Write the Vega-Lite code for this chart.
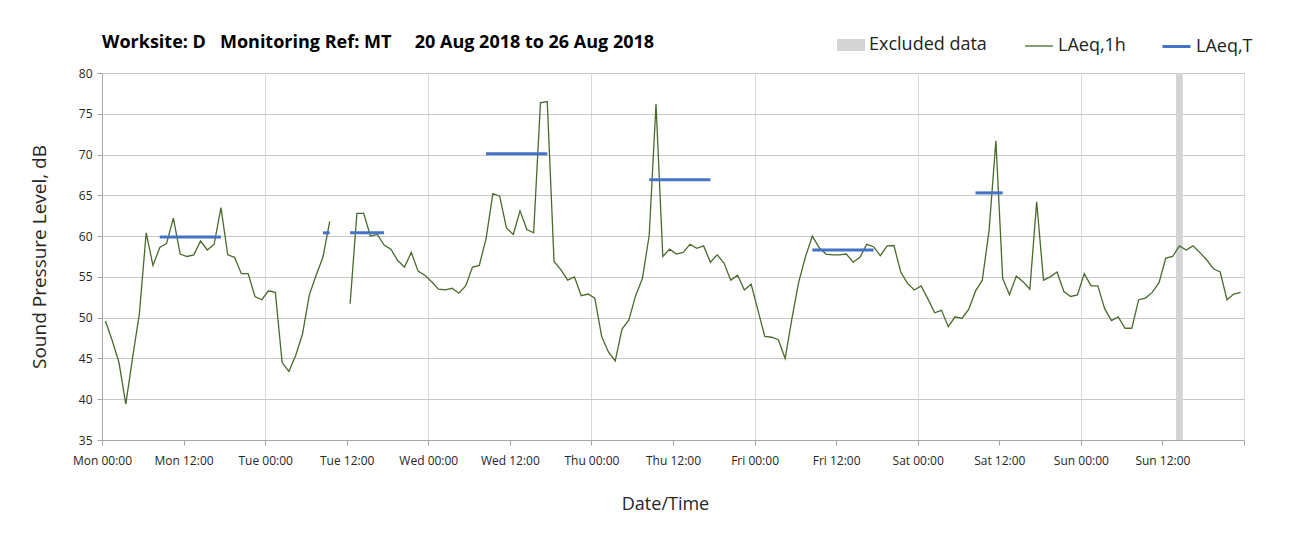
{
  "$schema": "https://vega.github.io/schema/vega-lite/v6.json",
  "width": 1142,
  "height": 367,
  "autosize": {"type": "none"},
  "padding": {"left": 102, "top": 73, "right": 65, "bottom": 100},
  "background": "white",
  "title": {
    "text": "Worksite: D\u00a0\u00a0\u00a0Monitoring Ref: MT\u00a0\u00a0\u00a0\u00a0\u00a020 Aug 2018 to 26 Aug 2018",
    "anchor": "start",
    "frame": "group",
    "offset": -21,
    "font": "Open Sans",
    "fontSize": 18,
    "fontWeight": "bold",
    "color": "#000000"
  },
  "datasets": {
    "excluded": [
      {"t": "2018-08-26T14:00", "t2": "2018-08-26T15:00"}
    ],
    "hourly": [
      {"t": "2018-08-20T00:30", "v": 49.6, "s": 1},
      {"t": "2018-08-20T01:30", "v": 47.2, "s": 1},
      {"t": "2018-08-20T02:30", "v": 44.5, "s": 1},
      {"t": "2018-08-20T03:30", "v": 39.4, "s": 1},
      {"t": "2018-08-20T04:30", "v": 45.1, "s": 1},
      {"t": "2018-08-20T05:30", "v": 50.5, "s": 1},
      {"t": "2018-08-20T06:30", "v": 60.4, "s": 1},
      {"t": "2018-08-20T07:30", "v": 56.4, "s": 1},
      {"t": "2018-08-20T08:30", "v": 58.6, "s": 1},
      {"t": "2018-08-20T09:30", "v": 59.1, "s": 1},
      {"t": "2018-08-20T10:30", "v": 62.2, "s": 1},
      {"t": "2018-08-20T11:30", "v": 57.8, "s": 1},
      {"t": "2018-08-20T12:30", "v": 57.5, "s": 1},
      {"t": "2018-08-20T13:30", "v": 57.7, "s": 1},
      {"t": "2018-08-20T14:30", "v": 59.4, "s": 1},
      {"t": "2018-08-20T15:30", "v": 58.3, "s": 1},
      {"t": "2018-08-20T16:30", "v": 59.0, "s": 1},
      {"t": "2018-08-20T17:30", "v": 63.5, "s": 1},
      {"t": "2018-08-20T18:30", "v": 57.7, "s": 1},
      {"t": "2018-08-20T19:30", "v": 57.4, "s": 1},
      {"t": "2018-08-20T20:30", "v": 55.4, "s": 1},
      {"t": "2018-08-20T21:30", "v": 55.4, "s": 1},
      {"t": "2018-08-20T22:30", "v": 52.6, "s": 1},
      {"t": "2018-08-20T23:30", "v": 52.2, "s": 1},
      {"t": "2018-08-21T00:30", "v": 53.3, "s": 1},
      {"t": "2018-08-21T01:30", "v": 53.1, "s": 1},
      {"t": "2018-08-21T02:30", "v": 44.5, "s": 1},
      {"t": "2018-08-21T03:30", "v": 43.4, "s": 1},
      {"t": "2018-08-21T04:30", "v": 45.4, "s": 1},
      {"t": "2018-08-21T05:30", "v": 48.0, "s": 1},
      {"t": "2018-08-21T06:30", "v": 52.8, "s": 1},
      {"t": "2018-08-21T07:30", "v": 55.2, "s": 1},
      {"t": "2018-08-21T08:30", "v": 57.4, "s": 1},
      {"t": "2018-08-21T09:30", "v": 61.8, "s": 1},
      {"t": "2018-08-21T12:30", "v": 51.7, "s": 2},
      {"t": "2018-08-21T13:30", "v": 62.8, "s": 2},
      {"t": "2018-08-21T14:30", "v": 62.8, "s": 2},
      {"t": "2018-08-21T15:30", "v": 60.0, "s": 2},
      {"t": "2018-08-21T16:30", "v": 60.2, "s": 2},
      {"t": "2018-08-21T17:30", "v": 58.9, "s": 2},
      {"t": "2018-08-21T18:30", "v": 58.4, "s": 2},
      {"t": "2018-08-21T19:30", "v": 57.0, "s": 2},
      {"t": "2018-08-21T20:30", "v": 56.2, "s": 2},
      {"t": "2018-08-21T21:30", "v": 58.0, "s": 2},
      {"t": "2018-08-21T22:30", "v": 55.7, "s": 2},
      {"t": "2018-08-21T23:30", "v": 55.2, "s": 2},
      {"t": "2018-08-22T00:30", "v": 54.4, "s": 2},
      {"t": "2018-08-22T01:30", "v": 53.5, "s": 2},
      {"t": "2018-08-22T02:30", "v": 53.4, "s": 2},
      {"t": "2018-08-22T03:30", "v": 53.6, "s": 2},
      {"t": "2018-08-22T04:30", "v": 53.0, "s": 2},
      {"t": "2018-08-22T05:30", "v": 53.9, "s": 2},
      {"t": "2018-08-22T06:30", "v": 56.2, "s": 2},
      {"t": "2018-08-22T07:30", "v": 56.4, "s": 2},
      {"t": "2018-08-22T08:30", "v": 59.7, "s": 2},
      {"t": "2018-08-22T09:30", "v": 65.2, "s": 2},
      {"t": "2018-08-22T10:30", "v": 64.9, "s": 2},
      {"t": "2018-08-22T11:30", "v": 61.0, "s": 2},
      {"t": "2018-08-22T12:30", "v": 60.2, "s": 2},
      {"t": "2018-08-22T13:30", "v": 63.1, "s": 2},
      {"t": "2018-08-22T14:30", "v": 60.8, "s": 2},
      {"t": "2018-08-22T15:30", "v": 60.4, "s": 2},
      {"t": "2018-08-22T16:30", "v": 76.35, "s": 2},
      {"t": "2018-08-22T17:30", "v": 76.5, "s": 2},
      {"t": "2018-08-22T18:30", "v": 56.9, "s": 2},
      {"t": "2018-08-22T19:30", "v": 55.9, "s": 2},
      {"t": "2018-08-22T20:30", "v": 54.6, "s": 2},
      {"t": "2018-08-22T21:30", "v": 55.0, "s": 2},
      {"t": "2018-08-22T22:30", "v": 52.7, "s": 2},
      {"t": "2018-08-22T23:30", "v": 52.9, "s": 2},
      {"t": "2018-08-23T00:30", "v": 52.4, "s": 2},
      {"t": "2018-08-23T01:30", "v": 47.7, "s": 2},
      {"t": "2018-08-23T02:30", "v": 45.8, "s": 2},
      {"t": "2018-08-23T03:30", "v": 44.7, "s": 2},
      {"t": "2018-08-23T04:30", "v": 48.6, "s": 2},
      {"t": "2018-08-23T05:30", "v": 49.7, "s": 2},
      {"t": "2018-08-23T06:30", "v": 52.7, "s": 2},
      {"t": "2018-08-23T07:30", "v": 54.8, "s": 2},
      {"t": "2018-08-23T08:30", "v": 60.1, "s": 2},
      {"t": "2018-08-23T09:30", "v": 76.2, "s": 2},
      {"t": "2018-08-23T10:30", "v": 57.5, "s": 2},
      {"t": "2018-08-23T11:30", "v": 58.4, "s": 2},
      {"t": "2018-08-23T12:30", "v": 57.8, "s": 2},
      {"t": "2018-08-23T13:30", "v": 58.0, "s": 2},
      {"t": "2018-08-23T14:30", "v": 59.0, "s": 2},
      {"t": "2018-08-23T15:30", "v": 58.5, "s": 2},
      {"t": "2018-08-23T16:30", "v": 58.8, "s": 2},
      {"t": "2018-08-23T17:30", "v": 56.8, "s": 2},
      {"t": "2018-08-23T18:30", "v": 57.7, "s": 2},
      {"t": "2018-08-23T19:30", "v": 56.7, "s": 2},
      {"t": "2018-08-23T20:30", "v": 54.6, "s": 2},
      {"t": "2018-08-23T21:30", "v": 55.2, "s": 2},
      {"t": "2018-08-23T22:30", "v": 53.4, "s": 2},
      {"t": "2018-08-23T23:30", "v": 54.1, "s": 2},
      {"t": "2018-08-24T00:30", "v": 50.9, "s": 2},
      {"t": "2018-08-24T01:30", "v": 47.7, "s": 2},
      {"t": "2018-08-24T02:30", "v": 47.6, "s": 2},
      {"t": "2018-08-24T03:30", "v": 47.3, "s": 2},
      {"t": "2018-08-24T04:30", "v": 45.0, "s": 2},
      {"t": "2018-08-24T05:30", "v": 49.9, "s": 2},
      {"t": "2018-08-24T06:30", "v": 54.4, "s": 2},
      {"t": "2018-08-24T07:30", "v": 57.5, "s": 2},
      {"t": "2018-08-24T08:30", "v": 60.0, "s": 2},
      {"t": "2018-08-24T09:30", "v": 58.6, "s": 2},
      {"t": "2018-08-24T10:30", "v": 57.8, "s": 2},
      {"t": "2018-08-24T11:30", "v": 57.7, "s": 2},
      {"t": "2018-08-24T12:30", "v": 57.7, "s": 2},
      {"t": "2018-08-24T13:30", "v": 57.8, "s": 2},
      {"t": "2018-08-24T14:30", "v": 56.8, "s": 2},
      {"t": "2018-08-24T15:30", "v": 57.4, "s": 2},
      {"t": "2018-08-24T16:30", "v": 59.0, "s": 2},
      {"t": "2018-08-24T17:30", "v": 58.7, "s": 2},
      {"t": "2018-08-24T18:30", "v": 57.6, "s": 2},
      {"t": "2018-08-24T19:30", "v": 58.8, "s": 2},
      {"t": "2018-08-24T20:30", "v": 58.85, "s": 2},
      {"t": "2018-08-24T21:30", "v": 55.6, "s": 2},
      {"t": "2018-08-24T22:30", "v": 54.2, "s": 2},
      {"t": "2018-08-24T23:30", "v": 53.4, "s": 2},
      {"t": "2018-08-25T00:30", "v": 53.9, "s": 2},
      {"t": "2018-08-25T01:30", "v": 52.3, "s": 2},
      {"t": "2018-08-25T02:30", "v": 50.6, "s": 2},
      {"t": "2018-08-25T03:30", "v": 50.9, "s": 2},
      {"t": "2018-08-25T04:30", "v": 48.9, "s": 2},
      {"t": "2018-08-25T05:30", "v": 50.1, "s": 2},
      {"t": "2018-08-25T06:30", "v": 49.9, "s": 2},
      {"t": "2018-08-25T07:30", "v": 51.0, "s": 2},
      {"t": "2018-08-25T08:30", "v": 53.25, "s": 2},
      {"t": "2018-08-25T09:30", "v": 54.6, "s": 2},
      {"t": "2018-08-25T10:30", "v": 60.7, "s": 2},
      {"t": "2018-08-25T11:30", "v": 71.7, "s": 2},
      {"t": "2018-08-25T12:30", "v": 54.8, "s": 2},
      {"t": "2018-08-25T13:30", "v": 52.8, "s": 2},
      {"t": "2018-08-25T14:30", "v": 55.1, "s": 2},
      {"t": "2018-08-25T15:30", "v": 54.4, "s": 2},
      {"t": "2018-08-25T16:30", "v": 53.5, "s": 2},
      {"t": "2018-08-25T17:30", "v": 64.2, "s": 2},
      {"t": "2018-08-25T18:30", "v": 54.6, "s": 2},
      {"t": "2018-08-25T19:30", "v": 55.0, "s": 2},
      {"t": "2018-08-25T20:30", "v": 55.6, "s": 2},
      {"t": "2018-08-25T21:30", "v": 53.2, "s": 2},
      {"t": "2018-08-25T22:30", "v": 52.6, "s": 2},
      {"t": "2018-08-25T23:30", "v": 52.8, "s": 2},
      {"t": "2018-08-26T00:30", "v": 55.4, "s": 2},
      {"t": "2018-08-26T01:30", "v": 53.9, "s": 2},
      {"t": "2018-08-26T02:30", "v": 53.9, "s": 2},
      {"t": "2018-08-26T03:30", "v": 51.1, "s": 2},
      {"t": "2018-08-26T04:30", "v": 49.65, "s": 2},
      {"t": "2018-08-26T05:30", "v": 50.1, "s": 2},
      {"t": "2018-08-26T06:30", "v": 48.7, "s": 2},
      {"t": "2018-08-26T07:30", "v": 48.7, "s": 2},
      {"t": "2018-08-26T08:30", "v": 52.2, "s": 2},
      {"t": "2018-08-26T09:30", "v": 52.4, "s": 2},
      {"t": "2018-08-26T10:30", "v": 53.1, "s": 2},
      {"t": "2018-08-26T11:30", "v": 54.3, "s": 2},
      {"t": "2018-08-26T12:30", "v": 57.3, "s": 2},
      {"t": "2018-08-26T13:30", "v": 57.5, "s": 2},
      {"t": "2018-08-26T14:30", "v": 58.8, "s": 2},
      {"t": "2018-08-26T15:30", "v": 58.3, "s": 2},
      {"t": "2018-08-26T16:30", "v": 58.8, "s": 2},
      {"t": "2018-08-26T17:30", "v": 58.0, "s": 2},
      {"t": "2018-08-26T18:30", "v": 57.1, "s": 2},
      {"t": "2018-08-26T19:30", "v": 56.0, "s": 2},
      {"t": "2018-08-26T20:30", "v": 55.6, "s": 2},
      {"t": "2018-08-26T21:30", "v": 52.2, "s": 2},
      {"t": "2018-08-26T22:30", "v": 52.9, "s": 2},
      {"t": "2018-08-26T23:30", "v": 53.1, "s": 2}
    ],
    "period": [
      {"t": "2018-08-20T08:30", "v": 59.9, "s": "Mon"},
      {"t": "2018-08-20T17:30", "v": 59.9, "s": "Mon"},
      {"t": "2018-08-21T08:30", "v": 60.4, "s": "Tue a"},
      {"t": "2018-08-21T09:30", "v": 60.4, "s": "Tue a"},
      {"t": "2018-08-21T12:30", "v": 60.4, "s": "Tue b"},
      {"t": "2018-08-21T17:30", "v": 60.4, "s": "Tue b"},
      {"t": "2018-08-22T08:30", "v": 70.1, "s": "Wed"},
      {"t": "2018-08-22T17:30", "v": 70.1, "s": "Wed"},
      {"t": "2018-08-23T08:30", "v": 66.9, "s": "Thu"},
      {"t": "2018-08-23T17:30", "v": 66.9, "s": "Thu"},
      {"t": "2018-08-24T08:30", "v": 58.3, "s": "Fri"},
      {"t": "2018-08-24T17:30", "v": 58.3, "s": "Fri"},
      {"t": "2018-08-25T08:30", "v": 65.3, "s": "Sat"},
      {"t": "2018-08-25T12:30", "v": 65.3, "s": "Sat"}
    ]
  },
  "layer": [
    {
      "data": {"name": "excluded"},
      "mark": {"type": "rect"},
      "encoding": {
        "x": {
          "field": "t",
          "type": "temporal",
          "title": "Date/Time",
          "scale": {
            "domain": [
              {"year": 2018, "month": 8, "date": 20, "hours": 0},
              {"year": 2018, "month": 8, "date": 27, "hours": 0}
            ],
            "nice": false
          },
          "axis": {
            "values": [
              {"year": 2018, "month": 8, "date": 20, "hours": 0},
              {"year": 2018, "month": 8, "date": 20, "hours": 12},
              {"year": 2018, "month": 8, "date": 21, "hours": 0},
              {"year": 2018, "month": 8, "date": 21, "hours": 12},
              {"year": 2018, "month": 8, "date": 22, "hours": 0},
              {"year": 2018, "month": 8, "date": 22, "hours": 12},
              {"year": 2018, "month": 8, "date": 23, "hours": 0},
              {"year": 2018, "month": 8, "date": 23, "hours": 12},
              {"year": 2018, "month": 8, "date": 24, "hours": 0},
              {"year": 2018, "month": 8, "date": 24, "hours": 12},
              {"year": 2018, "month": 8, "date": 25, "hours": 0},
              {"year": 2018, "month": 8, "date": 25, "hours": 12},
              {"year": 2018, "month": 8, "date": 26, "hours": 0},
              {"year": 2018, "month": 8, "date": 26, "hours": 12},
              {"year": 2018, "month": 8, "date": 27, "hours": 0}
            ],
            "labelExpr": "datum.value >= datetime(2018, 7, 27) ? '' : timeFormat(datum.value, '%a %H:%M')",
            "labelFontSize": 12,
            "labelPadding": 10,
            "labelOverlap": false,
            "labelFlush": false,
            "tickSize": 5,
            "grid": true,
            "gridColor": "#d9d9d9",
            "gridOpacity": {"condition": {"test": "hours(datum.value) == 12", "value": 0}, "value": 1},
            "titleFontSize": 18,
            "titlePadding": 29,
            "titleX": 563
          }
        },
        "x2": {"field": "t2"},
        "fill": {
          "datum": "Excluded data",
          "type": "nominal",
          "scale": {"domain": ["Excluded data"], "range": ["#d4d4d4"]},
          "legend": {
            "orient": "none",
            "legendX": 735,
            "legendY": -42,
            "title": null,
            "symbolType": "M-1,-0.43H1V0.43H-1Z",
            "symbolSize": 784,
            "symbolStrokeWidth": 0,
            "labelFontSize": 18,
            "labelOffset": 4,
            "labelFont": "Open Sans",
            "labelColor": "#222222"
          }
        }
      }
    },
    {
      "data": {"name": "hourly"},
      "mark": {"type": "line", "strokeWidth": 1.3},
      "encoding": {
        "x": {"field": "t", "type": "temporal"},
        "y": {
          "field": "v",
          "type": "quantitative",
          "title": "Sound Pressure Level, dB",
          "scale": {"domain": [35, 80], "nice": false, "zero": false},
          "axis": {
            "values": [35, 40, 45, 50, 55, 60, 65, 70, 75, 80],
            "labelFontSize": 12,
            "labelPadding": 5,
            "tickSize": 5,
            "grid": true,
            "gridColor": "#c8c8c8",
            "titleFontSize": 19,
            "titlePadding": 29
          }
        },
        "detail": {"field": "s", "type": "nominal"},
        "stroke": {
          "datum": "LAeq,1h",
          "type": "nominal",
          "scale": {"domain": ["LAeq,1h"], "range": ["#4a6a2c"]},
          "legend": {
            "orient": "none",
            "legendX": 922,
            "legendY": -42,
            "title": null,
            "symbolType": "M-1,0H1",
            "symbolSize": 784,
            "symbolStrokeWidth": 1.3,
            "labelFontSize": 18,
            "labelOffset": 4,
            "labelFont": "Open Sans",
            "labelColor": "#222222"
          }
        }
      }
    },
    {
      "data": {"name": "period"},
      "mark": {"type": "line", "strokeWidth": 3},
      "encoding": {
        "x": {"field": "t", "type": "temporal"},
        "y": {"field": "v", "type": "quantitative"},
        "detail": {"field": "s", "type": "nominal"},
        "color": {
          "datum": "LAeq,T",
          "type": "nominal",
          "scale": {"domain": ["LAeq,T"], "range": ["#4472c4"]},
          "legend": {
            "orient": "none",
            "legendX": 1059,
            "legendY": -42,
            "title": null,
            "symbolType": "M-1,0H1",
            "symbolSize": 784,
            "symbolStrokeWidth": 3,
            "labelFontSize": 18,
            "labelOffset": 4,
            "labelFont": "Open Sans",
            "labelColor": "#222222"
          }
        }
      }
    }
  ],
  "config": {
    "view": {"stroke": "#a6a6a6", "strokeWidth": 1},
    "axis": {
      "labelFont": "Open Sans",
      "titleFont": "Open Sans",
      "labelColor": "#262626",
      "titleColor": "#262626",
      "titleFontWeight": "normal",
      "domainColor": "#a6a6a6",
      "tickColor": "#a6a6a6"
    }
  }
}
